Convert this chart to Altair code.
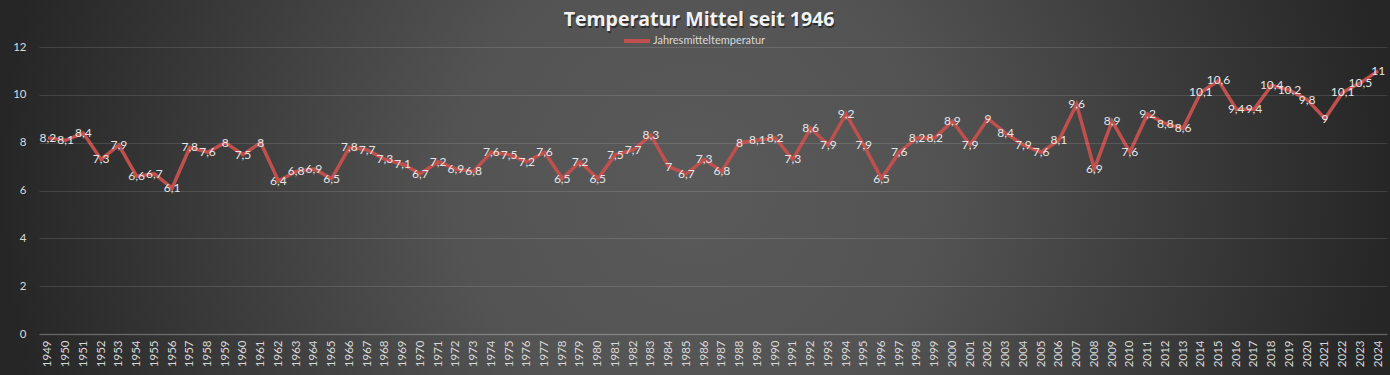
import altair as alt
import pandas as pd

years = list(range(1949, 2025))
temps = [8.2, 8.1, 8.4, 7.3, 7.9, 6.6, 6.7, 6.1, 7.8, 7.6,
         8.0, 7.5, 8.0, 6.4, 6.8, 6.9, 6.5, 7.8, 7.7, 7.3,
         7.1, 6.7, 7.2, 6.9, 6.8, 7.6, 7.5, 7.2, 7.6, 6.5,
         7.2, 6.5, 7.5, 7.7, 8.3, 7.0, 6.7, 7.3, 6.8, 8.0,
         8.1, 8.2, 7.3, 8.6, 7.9, 9.2, 7.9, 6.5, 7.6, 8.2,
         8.2, 8.9, 7.9, 9.0, 8.4, 7.9, 7.6, 8.1, 9.6, 6.9,
         8.9, 7.6, 9.2, 8.8, 8.6, 10.1, 10.6, 9.4, 9.4, 10.4,
         10.2, 9.8, 9.0, 10.1, 10.5, 11.0]
y_ticks = [0, 2, 4, 6, 8, 10, 12]
series_name = "Jahresmitteltemperatur"
title_text = "Temperatur Mittel seit 1946"

labels = [f"{v:g}".replace(".", ",") for v in temps]
df = pd.DataFrame({
    "Jahr": [str(y) for y in years],
    "Temp": temps,
    "Label": labels,
    "Reihe": series_name,
})

W, H = 1348, 287
PL, PT, PR, PB = 39, 47, 3, 41
FONT = "Lato"
TXT = "#d9d9d9"

bg = alt.Chart(alt.Data(values=[{}])).mark_rect(
    fill={
        "gradient": "radial",
        "x1": 0.5, "y1": 0.5, "r1": 0,
        "x2": 0.5, "y2": 0.5, "r2": 0.5,
        "stops": [
            {"offset": 0, "color": "#5a5a5a"},
            {"offset": 0.35, "color": "#535353"},
            {"offset": 1, "color": "#262626"},
        ],
    }
).encode(
    x=alt.value(-PL), x2=alt.value(W + PR),
    y=alt.value(-PT), y2=alt.value(H + PB),
)

x_enc = alt.X(
    "Jahr:O",
    scale=alt.Scale(type="point", padding=0.5),
    axis=alt.Axis(
        title=None, labelAngle=270, labelFontSize=11.5, labelColor=TXT,
        labelFont=FONT, labelPadding=6, ticks=False, grid=False,
        domainColor="#ffffff", domainOpacity=0.18, domainWidth=1.5, zindex=1,
    ),
)
y_enc = alt.Y(
    "Temp:Q",
    scale=alt.Scale(domain=[0, 12]),
    axis=alt.Axis(
        title=None, values=y_ticks, domain=False, ticks=False,
        labelPadding=13, labelFontSize=11.5, labelColor=TXT, labelFont=FONT,
        gridColor="#ffffff", gridOpacity=0.12, zindex=1,
    ),
)

base = alt.Chart(df).encode(x=x_enc, y=y_enc)

line = base.mark_line(strokeWidth=3.5).encode(
    color=alt.Color(
        "Reihe:N",
        scale=alt.Scale(range=["#c0504d"]),
        legend=alt.Legend(
            orient="none", legendX=583, legendY=-21, title=None,
            symbolType="stroke", symbolStrokeWidth=4, symbolSize=676,
            labelColor=TXT, labelFontSize=11, labelFont=FONT,
            labelOffset=1, zindex=1,
        ),
    )
)

text = base.mark_text(
    color="#e6e6e6", fontSize=12, font=FONT, align="center", baseline="middle"
).encode(text="Label:N")

title_shadow = alt.Chart(alt.Data(values=[{"t": title_text}])).mark_text(
    fontSize=19.5, fontWeight="bold", font="Open Sans", color="#000000", opacity=0.45,
    align="center", baseline="middle",
).encode(text="t:N", x=alt.value(660 + 1), y=alt.value(-27 + 2))

title = alt.Chart(alt.Data(values=[{"t": title_text}])).mark_text(
    fontSize=19.5, fontWeight="bold", font="Open Sans", color="#f2f2f2",
    align="center", baseline="middle",
).encode(text="t:N", x=alt.value(660), y=alt.value(-27))

chart = alt.layer(bg, line, text, title_shadow, title).properties(
    width=W, height=H,
    padding={"left": PL, "top": PT, "right": PR, "bottom": PB},
    autosize=alt.AutoSizeParams(type="none"),
    background="#2a2a2a",
).configure_view(stroke=None)

chart.save("out.html", embed_options={"renderer": "svg", "actions": False})
